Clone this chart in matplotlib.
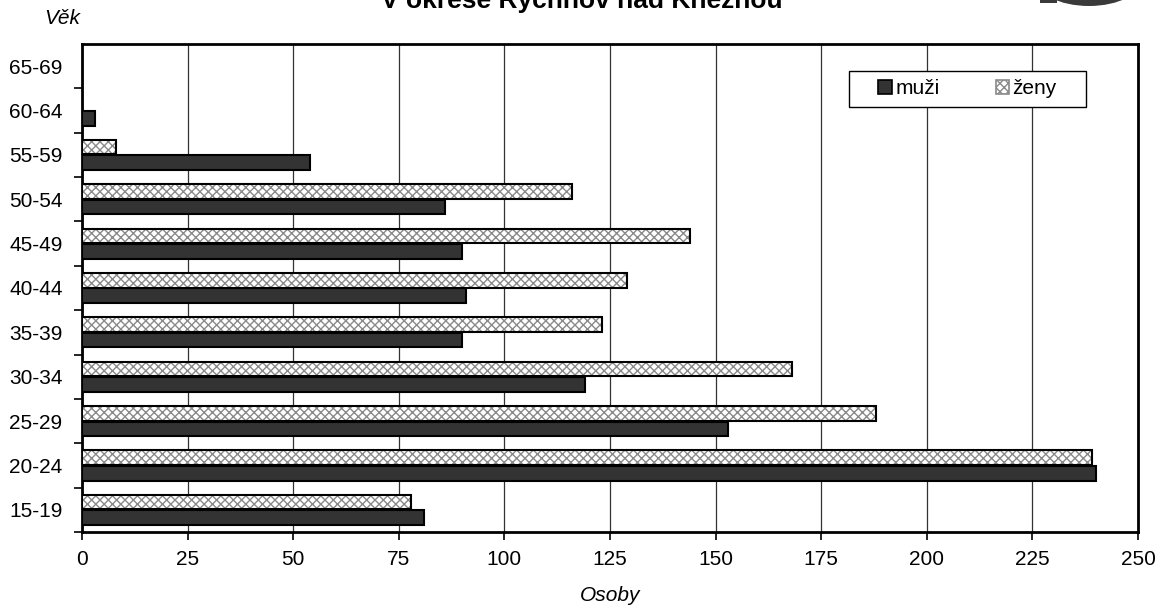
import matplotlib
matplotlib.use("Agg")
import matplotlib.pyplot as plt
from matplotlib.patches import Circle, Rectangle, Patch
import numpy as np

plt.rcParams['font.family'] = ['Liberation Sans', 'DejaVu Sans']

# vekove skupiny a pocty osob
vek = ['15-19', '20-24', '25-29', '30-34', '35-39', '40-44',
       '45-49', '50-54', '55-59', '60-64', '65-69']
muzi = [81, 240, 153, 119, 90, 91, 90, 86, 54, 3, 0]
zeny = [78, 239, 188, 168, 123, 129, 144, 116, 8, 0, 0]
x_ticks = [0, 25, 50, 75, 100, 125, 150, 175, 200, 225, 250]

W, H = 1168, 605
fig = plt.figure(figsize=(W / 100, H / 100), dpi=100)
ax = fig.add_axes([82 / W, 1 - 532 / H, (1138 - 82) / W, (532 - 44) / H])

pos = np.arange(len(vek))
bh = 0.33
off = 0.175

ax.barh(pos - off, muzi, height=bh, color='#333333', edgecolor='black',
        linewidth=1.5, zorder=3)
# zeny: hatch in grey, outline drawn separately in black
ax.barh(pos + off, zeny, height=bh, color='white', edgecolor='#8a8a8a',
        hatch='xxxx', linewidth=0, zorder=3)
ax.barh(pos + off, zeny, height=bh, fill=False, edgecolor='black',
        linewidth=1.5, zorder=4)

ax.set_xlim(0, 250)
ax.set_ylim(-0.5, len(vek) - 0.5)
ax.set_xticks(x_ticks)
ax.set_xticklabels([str(t) for t in x_ticks])
ax.set_yticks(pos - 0.5, minor=False)
ax.set_yticklabels([])
ax.set_yticks(pos, minor=True)
ax.set_yticklabels(vek, minor=True)
ax.tick_params(axis='y', which='minor', length=0, pad=14, labelsize=15)
ax.tick_params(axis='y', which='major', length=6, width=1.2, direction='out')
ax.tick_params(axis='x', length=6, width=1.2, pad=7, labelsize=15)

ax.grid(axis='x', color='#333333', linewidth=0.9, zorder=0)
ax.set_axisbelow(True)
for s in ax.spines.values():
    s.set_linewidth(2)
    s.set_color('black')

ax.set_xlabel('Osoby', fontsize=15, style='italic', labelpad=12)
fig.text(62 / W, 1 - 18 / H, 'Věk', fontsize=15, style='italic',
         ha='center', va='center')

# titulek je v originale nahore oriznuty
fig.text(582 / W, 1 - 8 / H, 'V okrese Rychnov nad Kněžnou', fontsize=19,
         fontweight='bold', ha='center', va='baseline')

# zbytek loga vpravo nahore
fig.patches.append(Circle((1089 / W, 1 + 22 / H), 28 / H, transform=fig.transFigure,
                          facecolor='#3a3a3a', edgecolor='none'))
fig.patches.append(Rectangle((1040 / W, 1 - 3 / H), 17 / W, 3 / H,
                             transform=fig.transFigure, facecolor='#3a3a3a',
                             edgecolor='none'))

# legenda s rucne kreslenym ramem
ax.add_patch(Rectangle((0.7263, 0.8709), 0.2244, 0.0738, transform=ax.transAxes,
                       facecolor='white', edgecolor='black', linewidth=1.0,
                       zorder=5))
handles = [Patch(facecolor='#333333', edgecolor='black', linewidth=1.2),
           Patch(facecolor='white', edgecolor='#8a8a8a', hatch='xxxx', linewidth=1.2)]
leg = ax.legend(handles, ['muži', 'ženy'], ncol=2, loc='center',
                bbox_to_anchor=(0.8385, 0.9078), fontsize=15, frameon=False,
                handlelength=0.65, handleheight=0.65, handletextpad=0.15,
                columnspacing=2.7, borderpad=0, borderaxespad=0)
leg.set_zorder(6)

fig.savefig('out.png', dpi=100)
